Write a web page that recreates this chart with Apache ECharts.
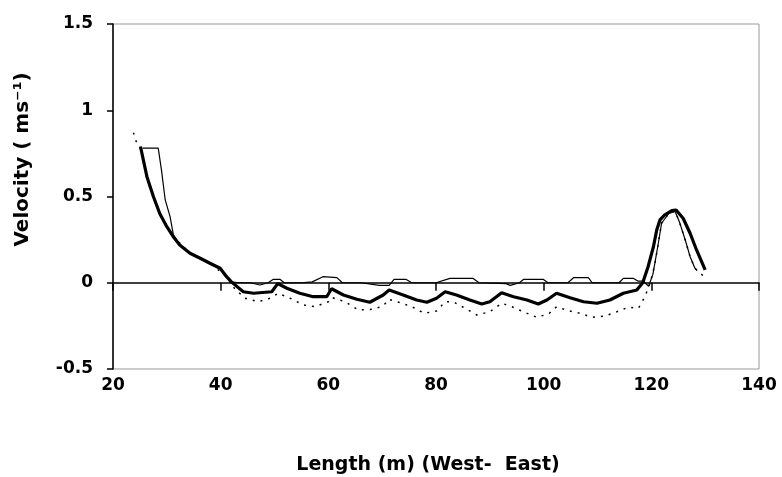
<!DOCTYPE html>
<html>
<head>
<meta charset="utf-8">
<script src="https://cdn.jsdelivr.net/npm/echarts@6/dist/echarts.min.js"></script>
<style>
html,body{margin:0;padding:0;background:#fff;}
#chart{width:782px;height:477px;}
</style>
</head>
<body>
<div id="chart"></div>
<script>
// Axis ticks
const xTicks = [20, 40, 60, 80, 100, 120, 140];
const yTicks = [-0.5, 0, 0.5, 1, 1.5];

// Thick solid series
const thickLength = [25.1, 26.3, 27.5, 28.7, 30.0, 31.2, 32.4, 34.3, 36.2, 38.0, 39.9, 41.1, 42.0, 44.2, 46.1, 49.5, 50.6, 52.3, 54.7, 57.2, 59.7, 60.6, 62.8, 65.3, 67.7, 70.2, 71.3, 73.9, 76.4, 78.3, 80.1, 81.7, 83.8, 86.3, 88.5, 90.0, 92.2, 94.4, 96.9, 99.0, 100.6, 102.4, 104.9, 107.4, 109.9, 112.3, 114.8, 117.3, 118.4, 119.4, 120.4, 121.0, 121.6, 122.5, 123.8, 124.6, 125.9, 127.2, 128.4, 130.0];
const thickVelocity = [0.79, 0.615, 0.50, 0.40, 0.325, 0.267, 0.219, 0.171, 0.142, 0.113, 0.084, 0.035, 0.005, -0.052, -0.061, -0.052, -0.005, -0.032, -0.061, -0.081, -0.081, -0.035, -0.071, -0.096, -0.113, -0.071, -0.042, -0.071, -0.10, -0.113, -0.09, -0.052, -0.071, -0.10, -0.123, -0.11, -0.058, -0.081, -0.10, -0.123, -0.10, -0.061, -0.087, -0.11, -0.119, -0.10, -0.061, -0.042, 0.0, 0.093, 0.21, 0.306, 0.364, 0.393, 0.418, 0.422, 0.374, 0.287, 0.19, 0.074];

// Thin solid series
const thinLength = [25.5, 28.4, 29.0, 29.7, 30.6, 31.2, 32.4, 34.3, 36.2, 38.0, 39.9, 41.1, 42.0, 43.5, 45.5, 47.3, 48.8, 49.8, 51.0, 51.8, 55.0, 57.0, 59.0, 61.6, 62.6, 66.0, 69.5, 71.3, 72.2, 74.4, 75.5, 80.0, 82.6, 86.9, 88.0, 93.0, 93.8, 95.5, 96.3, 99.9, 100.8, 104.5, 105.6, 108.3, 109.0, 114.0, 114.8, 116.7, 117.5, 118.5, 119.5, 120.3, 121.3, 121.9, 123.2, 124.4, 125.2, 126.3, 127.2, 128.1, 128.5];
const thinVelocity = [0.78, 0.78, 0.654, 0.48, 0.383, 0.28, 0.219, 0.171, 0.142, 0.113, 0.084, 0.035, 0.005, 0.0, 0.0, -0.013, 0.0, 0.02, 0.02, 0.0, 0.0, 0.005, 0.035, 0.03, 0.0, 0.0, -0.015, -0.015, 0.02, 0.02, 0.0, 0.0, 0.025, 0.025, 0.0, -0.005, -0.015, 0.0, 0.02, 0.02, 0.0, 0.0, 0.03, 0.03, 0.0, 0.0, 0.025, 0.025, 0.01, 0.01, -0.02, 0.05, 0.229, 0.345, 0.40, 0.415, 0.354, 0.248, 0.151, 0.084, 0.07];

// Dotted series
const dotLength = [23.8, 24.3, 25.1, 26.3, 28.7, 31.2, 34.3, 38.0, 41.1, 42.5, 44.5, 47.0, 49.2, 50.7, 52.9, 55.4, 57.5, 60.0, 60.6, 63.1, 65.6, 68.1, 70.2, 71.2, 73.3, 75.5, 77.8, 80.1, 81.7, 83.2, 85.4, 87.6, 90.0, 92.2, 94.1, 96.2, 98.7, 100.9, 102.4, 104.6, 106.8, 108.9, 111.4, 113.6, 115.7, 117.6, 118.8, 119.8, 120.6, 121.3, 121.9, 123.2, 124.4, 125.2, 126.3, 127.2, 128.1, 130.0];
const dotVelocity = [0.87, 0.82, 0.78, 0.615, 0.40, 0.267, 0.171, 0.113, 0.035, -0.03, -0.09, -0.11, -0.09, -0.061, -0.09, -0.129, -0.139, -0.11, -0.085, -0.11, -0.158, -0.154, -0.135, -0.096, -0.115, -0.139, -0.177, -0.164, -0.11, -0.11, -0.148, -0.187, -0.168, -0.119, -0.139, -0.168, -0.20, -0.181, -0.139, -0.162, -0.177, -0.20, -0.193, -0.168, -0.142, -0.148, -0.081, 0.0, 0.10, 0.229, 0.345, 0.40, 0.415, 0.354, 0.248, 0.151, 0.084, 0.03];

const zip = (a, b) => a.map((v, i) => [v, b[i]]);
const FONT = 'DejaVu Sans';

const chart = echarts.init(document.getElementById('chart'), null, {renderer: 'canvas'});
chart.setOption({
  animation: false,
  backgroundColor: '#ffffff',
  grid: {left: 113, right: 23, top: 24, bottom: 108, show: true, borderColor: '#999999', borderWidth: 1, backgroundColor: 'transparent', containLabel: false, outerBoundsMode: 'none'},
  xAxis: [
    {
      type: 'value', min: xTicks[0], max: xTicks[xTicks.length - 1], interval: 20,
      position: 'bottom',
      axisLine: {show: false, onZero: false},
      axisTick: {show: false},
      splitLine: {show: false},
      axisLabel: {fontFamily: FONT, fontWeight: 'bold', fontSize: 17, color: '#000', margin: 8},
      name: 'Length (m) (West-  East)',
      nameLocation: 'middle', nameGap: 87,
      nameTextStyle: {fontFamily: FONT, fontWeight: 'bold', fontSize: 19, color: '#000', padding: [0, 16, 0, 0]}
    },
    {
      type: 'value', min: xTicks[0], max: xTicks[xTicks.length - 1], interval: 20,
      position: 'bottom',
      axisLine: {show: true, onZero: true, lineStyle: {color: '#000', width: 1.5}},
      axisTick: {show: true, length: 8, lineStyle: {color: '#000', width: 1.5}},
      axisLabel: {show: false},
      splitLine: {show: false}
    }
  ],
  yAxis: {
    type: 'value', min: yTicks[0], max: yTicks[yTicks.length - 1], interval: 0.5,
    axisLine: {show: true, onZero: false, lineStyle: {color: '#000', width: 1.5}},
    axisTick: {show: true, length: 6, lineStyle: {color: '#000', width: 1.5}},
    splitLine: {show: false},
    axisLabel: {fontFamily: FONT, fontWeight: 'bold', fontSize: 17, color: '#000', margin: 20},
    name: 'Velocity ( ms\u207B\u00B9)',
    nameLocation: 'middle', nameRotate: 90, nameGap: 80,
    nameTextStyle: {fontFamily: FONT, fontWeight: 'bold', fontSize: 20, color: '#000', padding: [0, 0, 0, 74]}
  },
  series: [
    {
      type: 'line', name: 'dotted', xAxisIndex: 0, data: zip(dotLength, dotVelocity),
      showSymbol: false, smooth: false,
      lineStyle: {color: '#000', width: 1.5, type: [2, 6]}, z: 2
    },
    {
      type: 'line', name: 'thin', xAxisIndex: 0, data: zip(thinLength, thinVelocity),
      showSymbol: false, smooth: false,
      lineStyle: {color: '#000', width: 1.2}, z: 3
    },
    {
      type: 'line', name: 'thick', xAxisIndex: 0, data: zip(thickLength, thickVelocity),
      showSymbol: false, smooth: false,
      lineStyle: {color: '#000', width: 3.2}, z: 4
    }
  ]
});
</script>
</body>
</html>
